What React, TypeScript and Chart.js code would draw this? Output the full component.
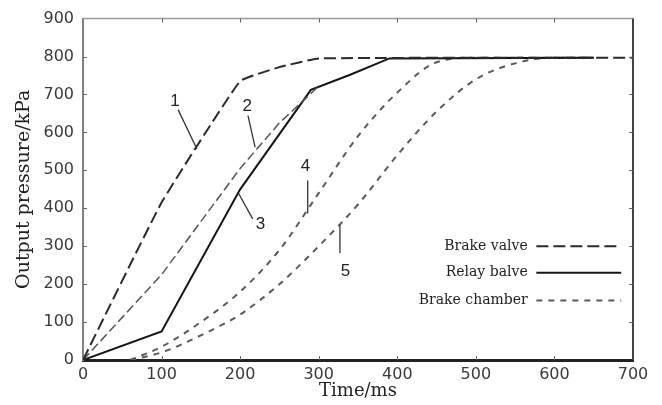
import React, { useEffect, useRef } from "react";
import { Chart, registerables } from "chart.js";

Chart.register(...registerables);

// ---- data (time in ms, pressure in kPa) ----
const brakeValveT = [0, 100, 200, 250, 300, 700];
const brakeValveP = [0, 415, 735, 772, 795, 797];

const curve2T = [0, 100, 200, 250, 300];
const curve2P = [0, 225, 505, 625, 722];

const relayValveT = [0, 100, 200, 290, 340, 390, 650];
const relayValveP = [0, 75, 450, 712, 752, 795, 797];

const chamber4T = [60, 100, 150, 200, 250, 300, 350, 400, 450, 500, 650];
const chamber4P = [0, 35, 100, 180, 290, 440, 590, 705, 785, 797, 797];

const chamber5T = [60, 100, 150, 200, 250, 300, 350, 400, 450, 500, 550, 600, 650];
const chamber5P = [0, 20, 65, 120, 200, 300, 410, 540, 655, 740, 782, 797, 797];

const xTickMax = 700;
const yTickMax = 900;

const legendLabels = ["Brake valve", "Relay balve", "Brake chamber"];
const legendDatasetIndex = [0, 2, 3];
const legendRowP = [300, 230, 157];
const legendTextT = 566;
const legendLineT = [577, 685];

// curve number annotations (data coordinates)
const curveLabels = ["1", "2", "3", "4", "5"];
const labelT = [117, 209, 226, 283, 334];
const labelP = [683, 668, 358, 511, 235];
const pointerFromT = [121, 210, 197, 286, 327];
const pointerFromP = [660, 644, 443, 473, 357];
const pointerToT = [145, 219, 216, 286, 327];
const pointerToP = [556, 561, 372, 386, 282];

const zip = (t: number[], p: number[]) => t.map((v, i) => ({ x: v, y: p[i] }));

const overlayPlugin = {
  id: "overlay",
  afterDatasetsDraw(chart: any) {
    const { ctx, chartArea: a, scales } = chart;
    const x = scales.x;
    const y = scales.y;
    ctx.save();

    // top & right frame
    ctx.setLineDash([]);
    ctx.strokeStyle = "#9a9a9a";
    ctx.lineWidth = 1.5;
    ctx.beginPath();
    ctx.moveTo(a.left, a.top);
    ctx.lineTo(a.right, a.top);
    ctx.stroke();
    ctx.strokeStyle = "#444";
    ctx.lineWidth = 2;
    ctx.beginPath();
    ctx.moveTo(a.right, a.top);
    ctx.lineTo(a.right, a.bottom);
    ctx.stroke();

    // inward tick marks
    ctx.strokeStyle = "#666";
    ctx.lineWidth = 1;
    ctx.beginPath();
    x.ticks.forEach((t: any) => {
      if (t.value <= 0 || t.value >= xTickMax) return;
      const px = Math.round(x.getPixelForValue(t.value)) + 0.5;
      ctx.moveTo(px, a.top);
      ctx.lineTo(px, a.top + 4);
      ctx.moveTo(px, a.bottom);
      ctx.lineTo(px, a.bottom - 4);
    });
    y.ticks.forEach((t: any) => {
      if (t.value <= 0 || t.value >= yTickMax) return;
      const py = Math.round(y.getPixelForValue(t.value)) + 0.5;
      ctx.moveTo(a.left, py);
      ctx.lineTo(a.left + 4, py);
      ctx.moveTo(a.right, py);
      ctx.lineTo(a.right - 4, py);
    });
    ctx.stroke();

    // curve number annotations
    ctx.strokeStyle = "#333";
    ctx.lineWidth = 1.3;
    ctx.beginPath();
    pointerFromT.forEach((t, i) => {
      ctx.moveTo(x.getPixelForValue(t), y.getPixelForValue(pointerFromP[i]));
      ctx.lineTo(x.getPixelForValue(pointerToT[i]), y.getPixelForValue(pointerToP[i]));
    });
    ctx.stroke();
    ctx.fillStyle = "#222";
    ctx.font = "17px 'Liberation Sans', Arial, sans-serif";
    ctx.textAlign = "center";
    ctx.textBaseline = "middle";
    curveLabels.forEach((s, i) => {
      ctx.fillText(s, x.getPixelForValue(labelT[i]), y.getPixelForValue(labelP[i]));
    });

    // legend
    ctx.font = "14px 'DejaVu Serif', serif";
    ctx.textAlign = "right";
    legendLabels.forEach((s, i) => {
      const ds = chart.data.datasets[legendDatasetIndex[i]];
      const py = y.getPixelForValue(legendRowP[i]);
      ctx.fillStyle = "#222";
      ctx.fillText(s, x.getPixelForValue(legendTextT), py);
      ctx.strokeStyle = ds.borderColor;
      ctx.lineWidth = ds.borderWidth;
      ctx.setLineDash(ds.borderDash || []);
      ctx.beginPath();
      ctx.moveTo(x.getPixelForValue(legendLineT[0]), py);
      ctx.lineTo(x.getPixelForValue(legendLineT[1]), py);
      ctx.stroke();
    });
    ctx.restore();
  },
};

export default function App() {
  const canvasRef = useRef<HTMLCanvasElement | null>(null);

  useEffect(() => {
    if (!canvasRef.current) return;
    const chart = new Chart(canvasRef.current, {
      type: "line",
      data: {
        datasets: [
          {
            label: "Brake valve",
            data: zip(brakeValveT, brakeValveP),
            borderColor: "#2a2a2a",
            borderWidth: 2,
            borderDash: [12, 5],
            pointRadius: 0,
            tension: 0.1,
          },
          {
            label: "Curve 2",
            data: zip(curve2T, curve2P),
            borderColor: "#555",
            borderWidth: 1.5,
            borderDash: [9, 4],
            pointRadius: 0,
            tension: 0,
          },
          {
            label: "Relay balve",
            data: zip(relayValveT, relayValveP),
            borderColor: "#151515",
            borderWidth: 2,
            pointRadius: 0,
            tension: 0,
          },
          {
            label: "Brake chamber",
            data: zip(chamber4T, chamber4P),
            borderColor: "#5a5a5a",
            borderWidth: 2,
            borderDash: [6, 6],
            pointRadius: 0,
            cubicInterpolationMode: "monotone",
          },
          {
            label: "Brake chamber 5",
            data: zip(chamber5T, chamber5P),
            borderColor: "#5a5a5a",
            borderWidth: 2,
            borderDash: [6, 6],
            pointRadius: 0,
            cubicInterpolationMode: "monotone",
          },
        ],
      },
      options: {
        responsive: false,
        animation: false,
        parsing: false,
        layout: { padding: { left: 0, top: 15, right: 29, bottom: 0 } },
        plugins: {
          legend: { display: false },
          tooltip: { enabled: false },
        },
        scales: {
          x: {
            type: "linear",
            min: 0,
            max: xTickMax,
            afterFit: (s: any) => {
              s.height = 45;
            },
            grid: { display: false, drawTicks: false },
            border: { display: true, color: "#222", width: 3 },
            ticks: {
              stepSize: 100,
              padding: 5,
              color: "#3a3a3a",
              font: { family: "'DejaVu Sans', sans-serif", size: 16 },
            },
            title: {
              display: true,
              text: "Time/ms",
              color: "#222",
              font: { family: "'DejaVu Serif', serif", size: 18, lineHeight: 1 },
              padding: { top: 0, bottom: 5 },
            },
          },
          y: {
            type: "linear",
            min: 0,
            max: yTickMax,
            afterFit: (s: any) => {
              s.width = 83;
            },
            grid: { display: false, drawTicks: false },
            border: { display: true, color: "#808080", width: 2 },
            ticks: {
              stepSize: 100,
              padding: 9,
              color: "#3a3a3a",
              font: { family: "'DejaVu Sans', sans-serif", size: 16 },
            },
            title: {
              display: true,
              text: "Output pressure/kPa",
              color: "#222",
              font: { family: "'DejaVu Serif', serif", size: 19, lineHeight: 1 },
              padding: { top: 15, bottom: 0 },
            },
          },
        },
      },
      plugins: [overlayPlugin],
    } as any);
    return () => chart.destroy();
  }, []);

  return (
    <div style={{ position: "fixed", left: 0, top: 0, width: 662, height: 405, background: "#fff" }}>
      <canvas ref={canvasRef} width={662} height={405} style={{ width: 662, height: 405 }} />
    </div>
  );
}
